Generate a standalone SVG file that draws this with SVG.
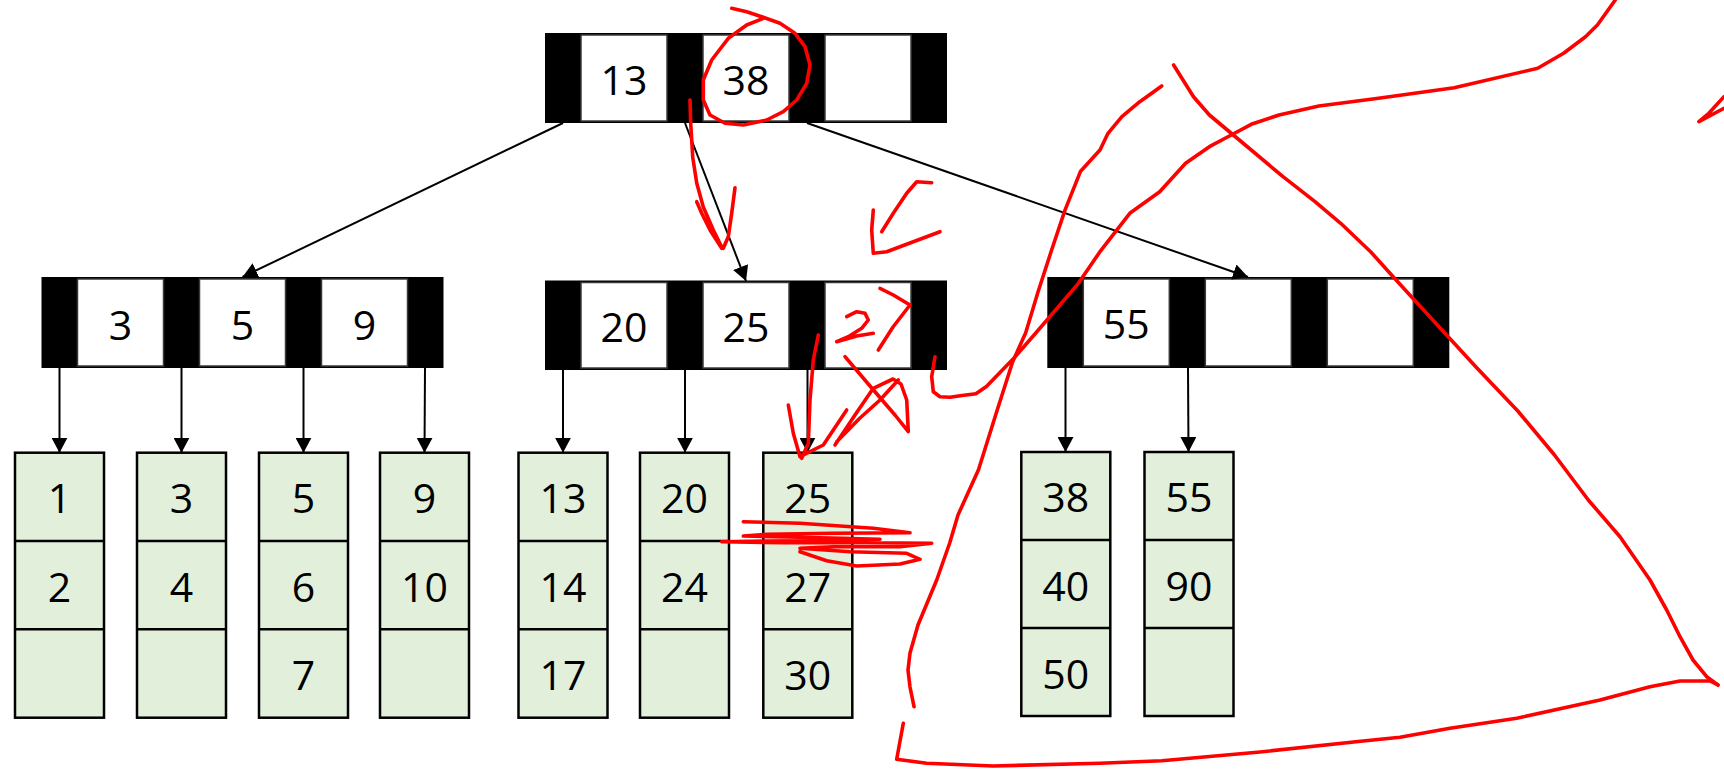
<svg xmlns="http://www.w3.org/2000/svg" width="1724" height="769" viewBox="0 0 1724 769">
<defs>
<style>
.bar{fill:#000}
.cell{fill:#fff;stroke:#3a3a3a;stroke-width:1.5}
.leaf{fill:#E2EFDA;stroke:#000;stroke-width:2.5}
.div{stroke:#000;stroke-width:2.5}
.t{font-family:"Open Sans","Noto Sans",sans-serif;font-size:41px;fill:#000;text-anchor:middle}
.edge{stroke:#000;stroke-width:2;fill:none;marker-end:url(#ah)}
.ink{fill:none;stroke:#FF0000;stroke-width:3.6;stroke-linecap:round;stroke-linejoin:round}
</style>
<marker id="ah" markerUnits="userSpaceOnUse" markerWidth="16" markerHeight="16" refX="15" refY="8" orient="auto" viewBox="0 0 16 16">
<path d="M0,0 L15,8 L0,16 Z" fill="#000"/>
</marker>
</defs>
<rect width="1724" height="769" fill="#fff"/>

<g id="root">
<rect class="bar" x="545" y="33" width="402" height="90"/>
<rect class="cell" x="581" y="35" width="86" height="86"/>
<rect class="cell" x="703" y="35" width="86" height="86"/>
<rect class="cell" x="825" y="35" width="86" height="86"/>
<text class="t" x="624" y="95">13</text>
<text class="t" x="746" y="95">38</text>
</g>

<g id="inner-left">
<rect class="bar" x="41.5" y="277" width="402" height="91"/>
<rect class="cell" x="77.5" y="279" width="86" height="87"/>
<rect class="cell" x="199.5" y="279" width="86" height="87"/>
<rect class="cell" x="321.5" y="279" width="86" height="87"/>
<text class="t" x="120.5" y="340">3</text>
<text class="t" x="242.5" y="340">5</text>
<text class="t" x="364.5" y="340">9</text>
</g>

<g id="inner-mid">
<rect class="bar" x="545" y="280.5" width="402" height="89.5"/>
<rect class="cell" x="581" y="282.5" width="86" height="85.5"/>
<rect class="cell" x="703" y="282.5" width="86" height="85.5"/>
<rect class="cell" x="825" y="282.5" width="86" height="85.5"/>
<text class="t" x="624" y="342">20</text>
<text class="t" x="746" y="342">25</text>
</g>

<g id="inner-right">
<rect class="bar" x="1047.3" y="277" width="402" height="91"/>
<rect class="cell" x="1083.3" y="279" width="86" height="87"/>
<rect class="cell" x="1205.3" y="279" width="86" height="87"/>
<rect class="cell" x="1327.3" y="279" width="86" height="87"/>
<text class="t" x="1126.3" y="339">55</text>
</g>

<g id="leaf1">
<rect class="leaf" x="15" y="452.7" width="89" height="265"/>
<line class="div" x1="15" y1="541" x2="104" y2="541"/><line class="div" x1="15" y1="629.3" x2="104" y2="629.3"/>
<text class="t" x="59.5" y="513">1</text><text class="t" x="59.5" y="601.5">2</text>
</g>
<g id="leaf2">
<rect class="leaf" x="137" y="452.7" width="89" height="265"/>
<line class="div" x1="137" y1="541" x2="226" y2="541"/><line class="div" x1="137" y1="629.3" x2="226" y2="629.3"/>
<text class="t" x="181.5" y="513">3</text><text class="t" x="181.5" y="601.5">4</text>
</g>
<g id="leaf3">
<rect class="leaf" x="259" y="452.7" width="89" height="265"/>
<line class="div" x1="259" y1="541" x2="348" y2="541"/><line class="div" x1="259" y1="629.3" x2="348" y2="629.3"/>
<text class="t" x="303.5" y="513">5</text><text class="t" x="303.5" y="601.5">6</text><text class="t" x="303.5" y="690">7</text>
</g>
<g id="leaf4">
<rect class="leaf" x="380" y="452.7" width="89" height="265"/>
<line class="div" x1="380" y1="541" x2="469" y2="541"/><line class="div" x1="380" y1="629.3" x2="469" y2="629.3"/>
<text class="t" x="424.5" y="513">9</text><text class="t" x="424.5" y="601.5">10</text>
</g>
<g id="leaf5">
<rect class="leaf" x="518.5" y="452.7" width="89" height="265"/>
<line class="div" x1="518.5" y1="541" x2="607.5" y2="541"/><line class="div" x1="518.5" y1="629.3" x2="607.5" y2="629.3"/>
<text class="t" x="563" y="513">13</text><text class="t" x="563" y="601.5">14</text><text class="t" x="563" y="690">17</text>
</g>
<g id="leaf6">
<rect class="leaf" x="640" y="452.7" width="89" height="265"/>
<line class="div" x1="640" y1="541" x2="729" y2="541"/><line class="div" x1="640" y1="629.3" x2="729" y2="629.3"/>
<text class="t" x="684.5" y="513">20</text><text class="t" x="684.5" y="601.5">24</text>
</g>
<g id="leaf7">
<rect class="leaf" x="763.3" y="452.7" width="89" height="265"/>
<line class="div" x1="763.3" y1="541" x2="852.3" y2="541"/><line class="div" x1="763.3" y1="629.3" x2="852.3" y2="629.3"/>
<text class="t" x="807.8" y="513">25</text><text class="t" x="807.8" y="601.5">27</text><text class="t" x="807.8" y="690">30</text>
</g>
<g id="leaf8">
<rect class="leaf" x="1021.3" y="452" width="89" height="264"/>
<line class="div" x1="1021.3" y1="540" x2="1110.3" y2="540"/><line class="div" x1="1021.3" y1="628" x2="1110.3" y2="628"/>
<text class="t" x="1065.8" y="512">38</text><text class="t" x="1065.8" y="600.5">40</text><text class="t" x="1065.8" y="689">50</text>
</g>
<g id="leaf9">
<rect class="leaf" x="1144.5" y="452" width="89" height="264"/>
<line class="div" x1="1144.5" y1="540" x2="1233.5" y2="540"/><line class="div" x1="1144.5" y1="628" x2="1233.5" y2="628"/>
<text class="t" x="1189" y="512">55</text><text class="t" x="1189" y="600.5">90</text>
</g>

<g id="connectors">
<line class="edge" x1="563" y1="123" x2="242.5" y2="277"/>
<line class="edge" x1="685" y1="123" x2="746" y2="281"/>
<line class="edge" x1="807" y1="123" x2="1248" y2="277"/>
<line class="edge" x1="59.5" y1="368" x2="59.5" y2="452.7"/>
<line class="edge" x1="181.5" y1="368" x2="181.5" y2="452.7"/>
<line class="edge" x1="303.5" y1="368" x2="303.5" y2="452.7"/>
<line class="edge" x1="425" y1="368" x2="424.5" y2="452.7"/>
<line class="edge" x1="563" y1="370" x2="563" y2="452.7"/>
<line class="edge" x1="685" y1="370" x2="685" y2="452.7"/>
<line class="edge" x1="807.5" y1="370" x2="807.5" y2="452.7"/>
<line class="edge" x1="1065.5" y1="368" x2="1065.5" y2="452"/>
<line class="edge" x1="1188" y1="368" x2="1188.5" y2="452"/>
</g>

<g id="annotations">
<path class="ink" d="M731.7,8.3 L746.7,11.7 L761.7,16.7 L780,23.3 L795,33.3 L805,46.7 L810,65 L806.7,83.3 L796.7,100 L783.3,111.7 L766.7,120 L743.3,125 L725,123.3 L710,115 L703.3,100 L703.3,80 L711.7,60 L728.3,38.3 L746.7,25 L763.3,18.3"/>
<path class="ink" d="M690,100 L690.7,123 L692.7,157 L696.7,183 L703.3,207 L713.3,230 L721.7,247 M696.7,201.7 L701.7,213.3 L710,230 L721.7,248.3 M735,187.7 L731.7,213.3 L728.3,236.7 L723.3,248.3"/>
<path class="ink" d="M931.7,182.7 L916.7,181.7 L906.7,193.3 L893.3,213.3 L881.7,231.7 M873.3,210 L871.7,230 L873.3,253.3 L886.7,251.7 L913.3,241.7 L940,231.7"/>
<path class="ink" d="M846.7,316.7 L856.7,311.7 L865,313.3 L868.3,320 L861.7,328.3 L848.3,336.7 L836.7,341.7 L856.7,336 L873.3,333.3 M880,288.3 L893.3,295 L910,305 L893,327 L878.3,350"/>
<path class="ink" d="M818.3,335 L813.3,360 L810,400 L808.3,443.3 L801.7,458.3 M788.3,405 L793.3,433.3 L800,456.7 L823.3,445 L846.7,410"/>
<path class="ink" d="M845,356.7 L870,386 L895,415 L908.3,431.7 L906.7,400 L901,384 L893,379 L873.3,388.3 L855,415 L835,445 M898.3,380 L880,400 L860,418 L836.7,441.7"/>
<path class="ink" d="M743.3,521.7 L800,523.3 L873.3,528.3 L910,532.7 L833.3,533.3 L766.7,534.3 L743.3,536 L800,537.3 L880,539.3 L800,540.7 L721.7,541.7 L783.3,542.7 L866.7,542.7 L931.7,543.3 L900,546.7 L833.3,546.7 L800,548.3 L850,551.7 L906.7,553.3 L920,559.3 L900,564 L856.7,566 L826.7,560.7 L800,551.7"/>
<path class="ink" d="M935,356.7 L931.7,376.7 L933.3,391.7 L940,396.7 L950,397.3 L962,395.5 L975.9,393.8 L986.4,386.5 L1012.6,359.6 L1036,332.7 L1078,283.8 L1100,251.7 L1129.8,213.3 L1159.7,191.7 L1185.6,163.3 L1209.4,146.7 L1231.3,135 L1251.2,124.3 L1279,115 L1318.9,106 L1378.5,98.3 L1454.2,87.7 L1537.7,68.3 L1563.6,53.3 L1585.5,36.7 L1597.4,25 L1615.3,0"/>
<path class="ink" d="M1161.7,86 L1151.7,93.3 L1139.8,101.7 L1121.9,116.7 L1108,133.3 L1100,150 L1080.6,171.2 L1064.9,210.4 L1051.8,249.5 L1038,292 L1025.7,332.7 L1012.6,362 L996.9,411 L978.5,469.7 L958,515 L949.7,543 L936.7,580 L923.6,611.5 L918,625 L910,653 L908,670 L910,687 L914,706.7"/>
<path class="ink" d="M903.3,723.3 L896.7,759.3 L926.7,763.3 L993,766 L1100,763.3 L1161.8,760.8 L1260,752 L1360.7,741.2 L1400,737.3 L1450,728.3 L1516.7,718.3 L1600,700 L1650,686.7 L1680,681 L1710,681 L1718,685"/>
<path class="ink" d="M1173.6,65 L1193.5,96.7 L1209.4,115 L1233.3,135 L1283,176.7 L1315,201.7 L1340.7,223.3 L1370.6,251.7 L1394.5,278.3 L1414.4,300 L1444.5,332.7 L1476,367 L1517.8,411 L1554.5,455 L1588.3,500 L1620,536.7 L1650,580 L1666.7,610 L1680,636.7 L1693,660 L1706.7,676.7 L1718,685"/>
<path class="ink" d="M1724,96.7 L1708.8,113.3 L1698.9,121.7 L1724,108.3"/>
</g>
</svg>
